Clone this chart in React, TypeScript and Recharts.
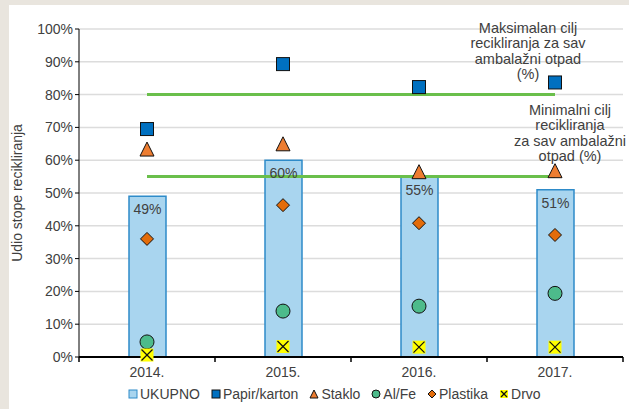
import React from "react";
import { ComposedChart, Bar, Line, XAxis, YAxis, CartesianGrid, LabelList, Label } from "recharts";

const years = ["2014.", "2015.", "2016.", "2017."];
const ukupno = [49, 60, 55, 51];
const papir = [69.5, 89.3, 82.3, 83.7];
const staklo = [63.4, 65, 56.5, 56.8];
const alfe = [4.6, 14, 15.5, 19.4];
const plastika = [36, 46.3, 40.8, 37.2];
const drvo = [0.6, 3.2, 3, 3];
const maxTarget = [80, 80, 80, 80];
const minTarget = [55, 55, 55, 55];
const yTicks = [0, 10, 20, 30, 40, 50, 60, 70, 80, 90, 100];

const maxText = ["Maksimalan cilj", "recikliranja za sav", "ambalažni otpad", "(%)"];
const minText = ["Minimalni cilj", "recikliranja", "za sav ambalažni", "otpad (%)"];

const data = years.map((y, i) => ({
  year: y,
  UKUPNO: ukupno[i],
  "Papir/karton": papir[i],
  Staklo: staklo[i],
  "Al/Fe": alfe[i],
  Plastika: plastika[i],
  Drvo: drvo[i],
  max: maxTarget[i],
  min: minTarget[i],
}));

const FONT = "'Liberation Sans', Arial, sans-serif";
const TXT = "#404040";
const FS = 14;
const BAND = 136;

const Square = ({ cx, cy, s = 13 }: any) => (
  <rect x={cx - s / 2} y={cy - s / 2} width={s} height={s} fill="#0070c0" stroke="#111" strokeWidth={1} />
);
const Triangle = ({ cx, cy, s = 14 }: any) => (
  <polygon
    points={`${cx},${cy - s / 2} ${cx + s / 2},${cy + s / 2} ${cx - s / 2},${cy + s / 2}`}
    fill="#ed7d31"
    stroke="#111"
    strokeWidth={1}
  />
);
const Circle = ({ cx, cy, s = 14 }: any) => (
  <circle cx={cx} cy={cy} r={s / 2} fill="#4dbb8b" stroke="#111" strokeWidth={1} />
);
const Diamond = ({ cx, cy, s = 13 }: any) => (
  <polygon
    points={`${cx},${cy - s / 2} ${cx + s / 2},${cy} ${cx},${cy + s / 2} ${cx - s / 2},${cy}`}
    fill="#e36c0a"
    stroke="#111"
    strokeWidth={1}
  />
);
const Cross = ({ cx, cy, s = 13 }: any) => (
  <g>
    <rect x={cx - s / 2} y={cy - s / 2} width={s} height={s} fill="#ffff00" />
    <line x1={cx - s / 2 + 1} y1={cy - s / 2 + 1} x2={cx + s / 2 - 1} y2={cy + s / 2 - 1} stroke="#111" strokeWidth={1.2} />
    <line x1={cx + s / 2 - 1} y1={cy - s / 2 + 1} x2={cx - s / 2 + 1} y2={cy + s / 2 - 1} stroke="#111" strokeWidth={1.2} />
  </g>
);
const BarIcon = ({ cx, cy, s = 9 }: any) => (
  <rect x={cx - s / 2} y={cy - s / 2} width={s} height={s} fill="#a9d5ef" stroke="#2e8bc9" strokeWidth={1} />
);

const series = [
  { key: "Papir/karton", Shape: Square },
  { key: "Staklo", Shape: Triangle },
  { key: "Al/Fe", Shape: Circle },
  { key: "Plastika", Shape: Diamond },
  { key: "Drvo", Shape: Cross },
];

const legendItems = [{ key: "UKUPNO", Shape: BarIcon }, ...series];

const XTick = (props: any) => {
  const { x, y, payload, index } = props;
  return (
    <g>
      <line x1={x - BAND / 2} y1={y - 8} x2={x - BAND / 2} y2={y - 3} stroke="#000" strokeWidth={1.5} />
      {index === years.length - 1 && (
        <line x1={x + BAND / 2} y1={y - 8} x2={x + BAND / 2} y2={y - 3} stroke="#000" strokeWidth={1.5} />
      )}
      <text x={x} y={y + 12} textAnchor="middle" fill={TXT} fontSize={FS} fontFamily={FONT}>
        {payload.value}
      </text>
    </g>
  );
};

const note = (lines: string[], dx: number, top: number) => (props: any) => {
  const { x, y, index } = props;
  if (index !== years.length - 1) return null;
  return (
    <text x={x + dx} y={y + top} textAnchor="middle" fill={TXT} fontSize={14.5} fontFamily={FONT}>
      {lines.map((l, i) => (
        <tspan key={i} x={x + dx} dy={i === 0 ? 0 : 15.6}>
          {l}
        </tspan>
      ))}
    </text>
  );
};

export default function App() {
  return (
    <div style={{ position: "fixed", left: 0, top: 0, width: 629, height: 409, background: "#e9e5de" }}>
      <div style={{ position: "absolute", left: 9, top: 5, width: 620, height: 404, background: "#fff" }} />
      <div style={{ position: "absolute", left: 0, top: 0 }}>
        <ComposedChart width={629} height={409} data={data} margin={{ top: 29, right: 6, left: 9, bottom: 27 }}>
          <CartesianGrid vertical={false} stroke="#dcdcdc" strokeWidth={1.5} />
          <XAxis
            dataKey="year"
            height={25}
            tickLine={false}
            tickSize={5}
            tickMargin={3}
            axisLine={{ stroke: "#000", strokeWidth: 2 }}
            tick={<XTick />}
            interval={0}
          />
          <YAxis
            width={70}
            domain={[0, 100]}
            ticks={yTicks}
            tickFormatter={(v: number) => `${v}%`}
            tickSize={4}
            tickMargin={2}
            axisLine={{ stroke: "#000" }}
            tickLine={{ stroke: "#000" }}
            tick={{ fill: TXT, fontSize: FS, fontFamily: FONT }}
          >
            <Label
              value="Udio stope recikliranja"
              angle={-90}
              position="insideLeft"
              offset={8}
              style={{ textAnchor: "middle", fill: TXT, fontSize: FS, fontFamily: FONT }}
            />
          </YAxis>
          <Bar dataKey="UKUPNO" barSize={37} fill="#a9d5ef" stroke="#2e8bc9" strokeWidth={1.5} isAnimationActive={false}>
            <LabelList
              dataKey="UKUPNO"
              position="insideTop"
              offset={8}
              formatter={(v: any) => `${v}%`}
              style={{ fill: TXT, fontSize: FS, fontFamily: FONT }}
            />
          </Bar>
          <Line dataKey="max" stroke="#6abf4b" strokeWidth={3} dot={false} activeDot={false} legendType="none" isAnimationActive={false}>
            <LabelList dataKey="max" content={note(maxText, -27, -62)} />
          </Line>
          <Line dataKey="min" stroke="#6abf4b" strokeWidth={3} dot={false} activeDot={false} legendType="none" isAnimationActive={false}>
            <LabelList dataKey="min" content={note(minText, 15, -62)} />
          </Line>
          {series.map(({ key, Shape }) => (
            <Line
              key={key}
              dataKey={key}
              stroke="none"
              activeDot={false}
              isAnimationActive={false}
              dot={(p: any) => <Shape key={`${key}-${p.index}`} cx={p.cx} cy={p.cy} />}
            />
          ))}
        </ComposedChart>
      </div>
      <div
        style={{
          position: "absolute",
          left: 128,
          top: 386,
          display: "flex",
          alignItems: "center",
          fontFamily: FONT,
          fontSize: FS,
          color: TXT,
          whiteSpace: "nowrap",
        }}
      >
        {legendItems.map(({ key, Shape }) => (
          <div key={key} style={{ display: "flex", alignItems: "center", marginRight: 11 }}>
            <svg width={10} height={10} style={{ marginRight: 2 }}>
              <Shape cx={5} cy={5} s={8} />
            </svg>
            <span>{key}</span>
          </div>
        ))}
      </div>
    </div>
  );
}
